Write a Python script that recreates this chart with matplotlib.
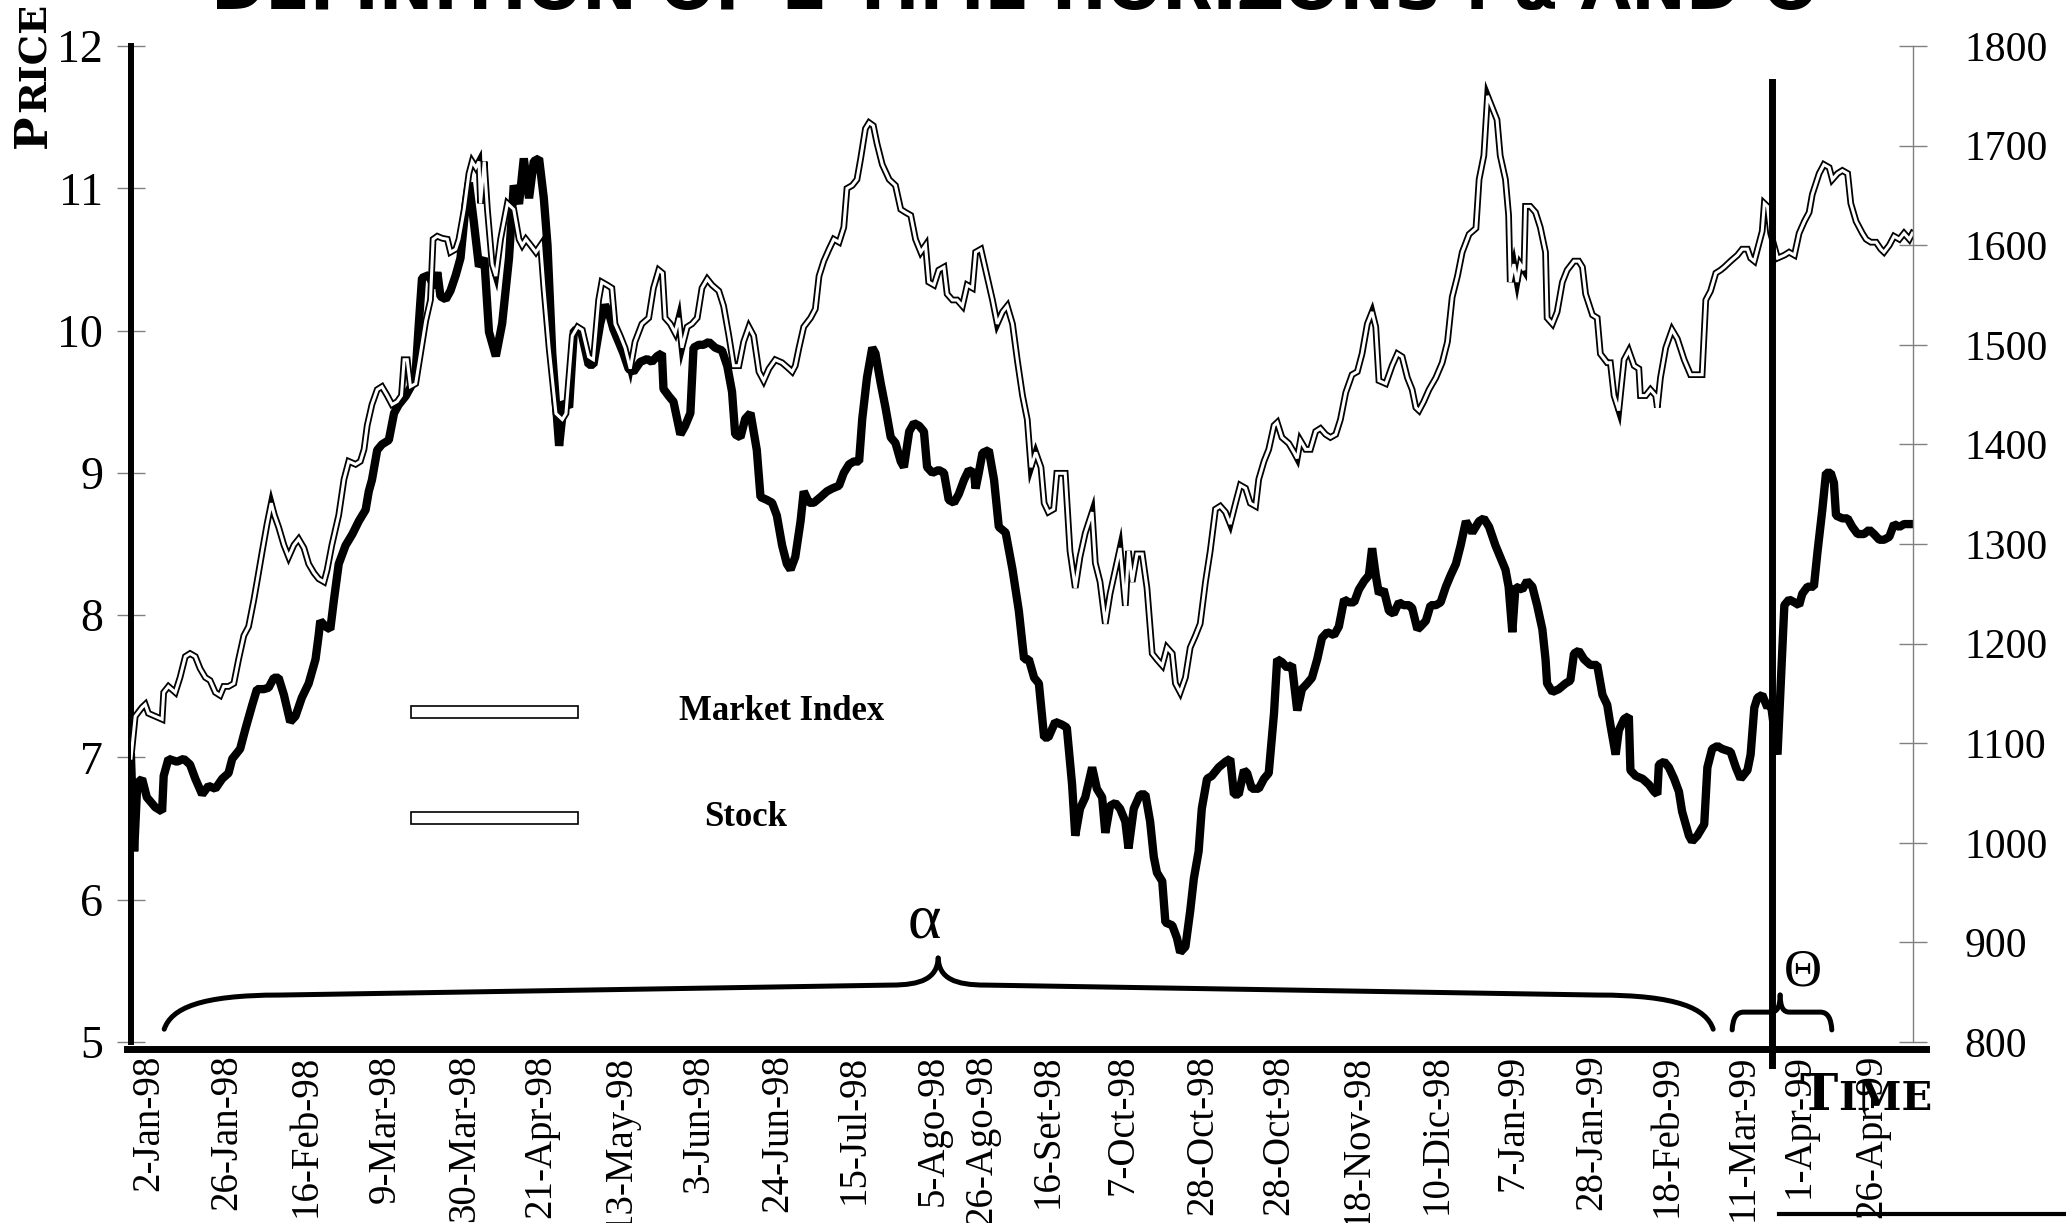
import matplotlib
matplotlib.use("Agg")
import matplotlib.pyplot as plt
from matplotlib.path import Path
from matplotlib.patches import PathPatch, Rectangle
from matplotlib.lines import Line2D

W, H, DPI = 2066, 1223, 100

TITLE = "DEFINITION OF 2 TIME HORIZONS : \u03b1 AND \u0398"

# x axis = trading day index (0 = 2-Jan-98)
TICK_DAYS = [3.4, 18.2, 33.2, 48.2, 63.2, 77.7, 92.7, 107.7, 122.7, 137.2, 152.2, 161.4,
             173.9, 188.2, 203.2, 217.7, 232.7, 247.7, 262.2, 277.0, 291.4, 305.7, 316.4, 330.2]
TICK_LABELS = ["2-Jan-98", "26-Jan-98", "16-Feb-98", "9-Mar-98", "30-Mar-98", "21-Apr-98",
               "13-May-98", "3-Jun-98", "24-Jun-98", "15-Jul-98", "5-Ago-98", "26-Ago-98",
               "16-Set-98", "7-Oct-98", "28-Oct-98", "28-Oct-98", "18-Nov-98", "10-Dic-98",
               "7-Jan-99", "28-Jan-99", "18-Feb-99", "11-Mar-99", "1-Apr-99", "26-Apr-99"]
PRICE_TICKS = [5, 6, 7, 8, 9, 10, 11, 12]
INDEX_TICKS = [800, 900, 1000, 1100, 1200, 1300, 1400, 1500, 1600, 1700, 1800]

STOCK_DAY = [0, 0.6, 1.2, 2.1, 3.0, 4.6, 5.9, 6.2, 7.1, 8.7, 10.0, 11.2, 12.2, 13.5, 14.7, 16.0,
             17.3, 18.5, 19.2, 20.7, 21.7, 23.0, 23.9, 25.2, 26.1, 27.1, 28.0, 29.0, 30.2, 31.2,
             32.4, 33.7, 35.0, 35.6, 35.9, 36.9, 37.8, 38.5, 39.4, 40.7, 42.0, 43.2, 44.5, 45.1,
             45.7, 46.7, 47.6, 48.9, 49.9, 50.8, 52.1, 53.0, 54.0, 54.6, 55.2, 56.5, 57.5, 58.1,
             58.7, 59.7, 60.6, 61.6, 62.5, 63.5, 64.1, 65.0, 66.0, 67.0, 67.9, 69.2, 70.4, 71.7,
             72.6, 73.6, 74.5, 75.5, 76.4, 77.4, 78.3, 79.0, 79.9, 81.2, 82.1, 83.1, 84.0, 85.3,
             86.8, 87.7, 89.0, 89.9, 90.6, 91.5, 92.5, 93.4, 94.4, 95.3, 96.6, 97.9, 98.8, 99.8,
             100.7, 101.0, 102.0, 102.9, 104.2, 105.1, 106.1, 106.7, 107.7, 108.6, 109.6, 110.8,
             112.1, 113.1, 114.0, 114.6, 115.6, 116.5, 117.5, 118.7, 119.4, 120.6, 121.6, 122.5,
             123.5, 124.4, 125.1, 126.0, 127.0, 127.6, 128.6, 129.5, 130.8, 132.0, 133.0, 134.3,
             135.2, 136.2, 137.1, 138.1, 138.7, 139.6, 140.6, 141.2, 142.2, 143.1, 144.1, 145.0,
             146.0, 146.6, 147.6, 148.5, 149.5, 150.4, 151.0, 152.0, 153.2, 154.2, 155.1, 156.1,
             157.0, 158.0, 158.9, 159.9, 160.2, 160.8, 161.5, 162.7, 163.7, 164.6, 165.9, 167.2,
             168.4, 169.4, 170.3, 171.3, 172.2, 173.2, 174.0, 175.3, 176.6, 177.5, 178.5, 179.1,
             180.0, 181.0, 182.3, 183.2, 184.2, 184.8, 185.7, 186.7, 187.6, 188.6, 189.2, 190.2,
             191.4, 192.4, 193.3, 194.0, 194.6, 195.6, 196.2, 197.5, 198.4, 199.0, 200.0, 200.9,
             201.6, 202.5, 203.1, 204.1, 205.0, 206.3, 207.6, 208.5, 209.2, 210.1, 211.1, 211.7,
             212.6, 213.9, 214.9, 215.8, 216.8, 217.4, 218.3, 219.3, 220.2, 221.2, 222.1, 223.1,
             224.0, 225.0, 225.9, 226.9, 228.2, 229.1, 230.1, 231.0, 232.0, 232.9, 233.9, 234.8,
             235.4, 236.1, 236.7, 237.6, 238.6, 239.5, 240.5, 241.4, 242.4, 243.0, 244.0, 244.6,
             245.6, 246.5, 247.5, 248.4, 249.4, 250.3, 251.3, 252.2, 253.2, 254.4, 255.7, 256.6,
             257.6, 258.8, 259.7, 260.7, 261.3, 262.0, 262.6, 263.9, 264.8, 265.8, 266.7, 267.7,
             268.3, 268.6, 269.6, 270.8, 272.1, 273.0, 273.7, 274.6, 275.6, 276.8, 278.1, 279.1,
             280.0, 280.6, 281.6, 282.2, 283.2, 284.1, 284.4, 285.4, 286.7, 287.9, 288.9, 289.5,
             289.8, 290.8, 291.7, 292.7, 293.6, 294.2, 295.5, 296.1, 297.1, 298.4, 299.0, 299.9,
             300.9, 301.8, 303.4, 304.4, 305.3, 306.6, 307.2, 307.9, 308.5, 309.4, 310.4, 311.0,
             312.3, 313.6, 314.5, 315.5, 316.4, 317.0, 318.0, 319.2, 319.9, 320.8, 321.5, 322.4,
             323.0, 323.4, 324.6, 325.6, 326.5, 327.5, 328.7, 329.7, 330.6, 331.6, 332.5, 333.5,
             334.4, 335.4, 336.3, 337.9]
STOCK_VAL = [7.00, 6.34, 6.82, 6.85, 6.72, 6.65, 6.62, 6.87, 6.99, 6.97, 6.99, 6.95, 6.85, 6.74,
             6.80, 6.78, 6.85, 6.89, 6.99, 7.06, 7.20, 7.37, 7.48, 7.48, 7.49, 7.56, 7.56, 7.44,
             7.25, 7.29, 7.42, 7.52, 7.69, 7.86, 7.96, 7.92, 7.90, 8.11, 8.36, 8.49, 8.57, 8.66,
             8.74, 8.87, 8.95, 9.16, 9.20, 9.23, 9.42, 9.48, 9.54, 9.60, 9.71, 10.05, 10.37, 10.39,
             10.30, 10.41, 10.24, 10.22, 10.28, 10.39, 10.51, 10.89, 11.04, 10.77, 10.45, 10.51,
             9.99, 9.82, 10.05, 10.51, 11.02, 10.89, 11.21, 10.93, 11.19, 11.21, 10.93, 10.60,
             9.84, 9.19, 9.50, 9.46, 10.00, 10.01, 9.76, 9.76, 10.05, 10.18, 10.13, 10.01, 9.92,
             9.84, 9.73, 9.71, 9.78, 9.80, 9.78, 9.82, 9.84, 9.59, 9.54, 9.50, 9.27, 9.33, 9.42,
             9.88, 9.90, 9.90, 9.92, 9.88, 9.86, 9.75, 9.57, 9.27, 9.25, 9.38, 9.42, 9.16, 8.83,
             8.81, 8.79, 8.70, 8.49, 8.36, 8.32, 8.41, 8.66, 8.87, 8.79, 8.79, 8.83, 8.87, 8.89,
             8.91, 9.00, 9.06, 9.08, 9.08, 9.38, 9.67, 9.88, 9.84, 9.63, 9.46, 9.25, 9.21, 9.08,
             9.04, 9.29, 9.35, 9.33, 9.29, 9.04, 9.00, 9.02, 9.00, 8.81, 8.79, 8.85, 8.95, 9.02,
             9.00, 8.89, 9.00, 9.14, 9.16, 8.95, 8.62, 8.58, 8.32, 8.03, 7.69, 7.69, 7.56, 7.52,
             7.14, 7.14, 7.25, 7.23, 7.21, 6.81, 6.45, 6.64, 6.72, 6.93, 6.78, 6.72, 6.47, 6.66,
             6.68, 6.64, 6.55, 6.36, 6.64, 6.74, 6.74, 6.55, 6.30, 6.19, 6.13, 5.84, 5.82, 5.73,
             5.63, 5.67, 5.92, 6.15, 6.34, 6.64, 6.85, 6.87, 6.93, 6.97, 6.99, 6.74, 6.74, 6.91,
             6.89, 6.78, 6.78, 6.85, 6.89, 7.31, 7.69, 7.67, 7.63, 7.65, 7.33, 7.48, 7.52, 7.56,
             7.69, 7.84, 7.88, 7.86, 7.92, 8.11, 8.09, 8.09, 8.18, 8.24, 8.28, 8.47, 8.28, 8.15,
             8.18, 8.03, 8.01, 8.09, 8.07, 8.07, 8.05, 7.90, 7.92, 7.96, 8.07, 8.07, 8.09, 8.20,
             8.28, 8.36, 8.49, 8.66, 8.58, 8.66, 8.68, 8.62, 8.49, 8.41, 8.32, 8.20, 7.88, 8.20,
             8.18, 8.24, 8.20, 8.07, 7.90, 7.69, 7.52, 7.46, 7.48, 7.52, 7.54, 7.73, 7.75, 7.69,
             7.65, 7.65, 7.44, 7.37, 7.23, 7.02, 7.19, 7.27, 7.29, 6.91, 6.87, 6.85, 6.81, 6.76,
             6.74, 6.95, 6.97, 6.93, 6.85, 6.76, 6.62, 6.45, 6.41, 6.45, 6.53, 6.93, 7.06, 7.08,
             7.06, 7.04, 6.93, 6.85, 6.91, 7.02, 7.35, 7.42, 7.44, 7.35, 7.39, 7.02, 8.07, 8.11,
             8.09, 8.07, 8.15, 8.20, 8.20, 8.45, 8.74, 9.00, 9.00, 8.93, 8.70, 8.68, 8.68, 8.62,
             8.57, 8.57, 8.60, 8.57, 8.53, 8.53, 8.55, 8.64, 8.62, 8.64, 8.64]

INDEX_DAY = [0, 0.8, 2.1, 2.7, 3.3, 4.6, 5.9, 6.2, 7.1, 8.4, 9.3, 10.3, 11.2, 12.2, 13.1, 14.1,
             15.0, 16.0, 16.9, 17.6, 18.5, 19.5, 20.4, 21.4, 22.3, 23.3, 23.9, 24.9, 25.8, 26.6,
             27.2, 28.0, 29.0, 29.9, 30.9, 31.8, 32.8, 33.7, 34.7, 35.6, 36.6, 37.2, 38.1, 39.4,
             40.4, 41.3, 42.6, 43.5, 44.2, 44.8, 45.7, 46.7, 47.6, 48.6, 49.5, 50.5, 51.3, 51.8,
             52.4, 53.0, 54.0, 54.9, 55.9, 56.8, 57.3, 58.1, 59.0, 60.0, 60.6, 61.6, 62.2, 63.2,
             64.1, 64.7, 65.4, 66.0, 66.3, 67.0, 67.6, 68.5, 69.2, 70.1, 71.4, 72.6, 73.6, 74.2,
             74.9, 75.8, 76.8, 77.7, 78.3, 79.3, 80.6, 81.8, 82.5, 83.7, 84.7, 85.6, 86.8, 87.7,
             88.7, 89.3, 90.3, 91.2, 91.8, 92.8, 93.7, 94.7, 95.6, 96.9, 98.2, 99.1, 100.1, 100.8,
             101.3, 102.3, 103.2, 103.9, 104.5, 105.5, 106.4, 107.4, 108.3, 109.3, 110.2, 111.5,
             112.4, 113.4, 114.3, 115.3, 116.2, 117.2, 118.1, 119.1, 120.0, 121.0, 122.2, 123.5,
             124.8, 125.4, 126.0, 126.7, 127.6, 128.9, 129.8, 130.5, 131.4, 132.4, 133.3, 134.3,
             135.2, 135.8, 136.8, 137.7, 138.4, 139.3, 140.0, 140.8, 141.5, 142.5, 143.8, 145.0,
             146.0, 146.9, 147.9, 148.8, 149.8, 150.7, 151.3, 152.3, 153.2, 154.2, 154.8, 155.8,
             156.7, 157.7, 158.6, 159.6, 160.2, 161.2, 162.1, 163.4, 164.3, 165.3, 166.2, 167.2,
             168.1, 169.1, 170.0, 170.7, 171.6, 172.6, 173.2, 174.0, 175.0, 175.6, 176.6, 177.2,
             178.1, 179.1, 180.0, 181.0, 182.3, 182.9, 183.8, 184.8, 185.7, 186.7, 187.6, 188.6,
             189.2, 189.9, 190.8, 191.8, 192.7, 193.7, 194.6, 195.6, 196.5, 197.5, 198.1, 199.0,
             200.0, 200.9, 201.9, 202.8, 203.8, 204.7, 205.7, 206.6, 207.6, 208.5, 209.5, 210.4,
             211.4, 212.3, 213.3, 213.9, 214.9, 215.8, 216.8, 217.4, 218.3, 219.6, 220.6, 221.2,
             221.8, 222.8, 223.7, 224.7, 225.6, 226.6, 227.5, 228.5, 229.4, 230.4, 231.6, 232.6,
             233.5, 234.5, 235.4, 236.1, 236.7, 238.0, 239.2, 240.2, 241.1, 242.1, 243.0, 243.7,
             244.3, 245.2, 246.2, 247.5, 248.7, 249.7, 250.6, 251.6, 252.5, 253.8, 255.1, 255.7,
             256.6, 257.3, 258.2, 259.1, 259.7, 260.7, 261.3, 261.6, 262.3, 262.9, 263.5, 264.2,
             264.5, 265.4, 266.4, 267.3, 268.3, 268.6, 269.6, 270.5, 271.5, 272.4, 273.7, 274.6,
             275.3, 275.9, 277.2, 278.1, 278.7, 280.0, 280.6, 281.3, 282.2, 283.2, 284.1, 285.1,
             286.0, 286.3, 287.3, 288.2, 289.2, 289.5, 290.1, 291.1, 292.3, 293.3, 294.6, 295.8,
             297.1, 298.0, 298.7, 299.6, 300.6, 301.5, 302.2, 303.4, 304.7, 305.6, 306.6, 307.2,
             307.9, 308.8, 309.4, 309.8, 310.4, 311.0, 312.3, 313.6, 314.5, 315.5, 316.4, 317.4,
             318.3, 318.9, 320.2, 321.1, 322.1, 322.7, 323.7, 324.6, 325.6, 326.2, 327.2, 328.4,
             329.1, 330.0, 331.0, 331.9, 332.5, 333.5, 334.4, 335.4, 336.3, 337.3, 337.9]
INDEX_VAL = [1085, 1127, 1136, 1139, 1130, 1127, 1124, 1151, 1157, 1151, 1166, 1187, 1190, 1187,
             1175, 1166, 1163, 1151, 1148, 1157, 1157, 1160, 1184, 1208, 1217, 1244, 1262, 1293,
             1320, 1341, 1329, 1317, 1299, 1287, 1299, 1305, 1296, 1280, 1271, 1265, 1262, 1274,
             1299, 1329, 1365, 1383, 1380, 1383, 1395, 1419, 1440, 1455, 1458, 1449, 1440, 1443,
             1449, 1485, 1485, 1458, 1461, 1491, 1524, 1545, 1606, 1609, 1607, 1606, 1593, 1596,
             1606, 1636, 1672, 1684, 1678, 1684, 1642, 1684, 1636, 1581, 1569, 1606, 1642, 1636,
             1606, 1600, 1606, 1600, 1593, 1600, 1558, 1497, 1431, 1425, 1431, 1509, 1518, 1515,
             1488, 1485, 1545, 1563, 1560, 1557, 1521, 1509, 1497, 1476, 1503, 1521, 1527, 1557,
             1575, 1572, 1527, 1521, 1512, 1527, 1497, 1518, 1521, 1527, 1557, 1566, 1560, 1554,
             1539, 1509, 1479, 1479, 1503, 1518, 1509, 1473, 1464, 1476, 1485, 1482, 1476, 1473,
             1479, 1497, 1518, 1527, 1536, 1569, 1584, 1596, 1606, 1603, 1618, 1657, 1660, 1666,
             1687, 1717, 1723, 1720, 1702, 1681, 1666, 1660, 1636, 1633, 1630, 1606, 1593, 1600,
             1563, 1560, 1575, 1578, 1551, 1545, 1545, 1539, 1560, 1557, 1593, 1596, 1575, 1545,
             1521, 1533, 1539, 1521, 1485, 1449, 1425, 1377, 1392, 1377, 1341, 1332, 1335, 1371,
             1371, 1371, 1293, 1256, 1287, 1311, 1332, 1281, 1262, 1220, 1250, 1274, 1296, 1238,
             1293, 1262, 1290, 1290, 1256, 1190, 1184, 1178, 1196, 1190, 1160, 1151, 1166, 1196,
             1208, 1220, 1262, 1293, 1335, 1338, 1332, 1320, 1341, 1359, 1356, 1341, 1338, 1365,
             1383, 1395, 1419, 1422, 1407, 1401, 1392, 1386, 1404, 1395, 1395, 1413, 1416, 1410,
             1407, 1410, 1425, 1452, 1470, 1473, 1491, 1521, 1533, 1518, 1464, 1461, 1479, 1491,
             1488, 1467, 1455, 1437, 1434, 1443, 1455, 1467, 1482, 1503, 1548, 1569, 1593, 1611,
             1617, 1666, 1690, 1750, 1738, 1726, 1690, 1666, 1630, 1563, 1581, 1563, 1581, 1575,
             1639, 1639, 1633, 1618, 1593, 1527, 1521, 1533, 1563, 1575, 1584, 1584, 1578, 1551,
             1530, 1527, 1491, 1482, 1482, 1449, 1434, 1485, 1494, 1479, 1476, 1449, 1449, 1455,
             1449, 1437, 1467, 1497, 1515, 1506, 1485, 1470, 1470, 1470, 1545, 1554, 1572, 1575,
             1578, 1584, 1590, 1596, 1596, 1587, 1584, 1602, 1614, 1642, 1639, 1612, 1587, 1590,
             1593, 1590, 1612, 1624, 1633, 1651, 1672, 1681, 1678, 1666, 1672, 1675, 1672, 1642,
             1624, 1612, 1606, 1603, 1603, 1596, 1593, 1600, 1609, 1606, 1612, 1606, 1612]

CUT_DAY = 311.3                      # boundary between the two horizons
ALPHA_BRACE = (6.3, 153.1, 300.1)    # start, tip, end (days)
THETA_BRACE = (303.7, 312.8, 322.6)


def fx(x): return x / W
def fy(y): return 1 - y / H


def brace(ax, x0, xm, x1, y_end, y_mid, y_near, y_tip, r_end, r_tip, lw):
    h = y_mid - y_end
    left = [(x0, y_end), (x0 + 0.06*r_end, y_end + 0.6*h), (x0 + 0.3*r_end, y_mid), (x0 + r_end, y_mid),
            (xm - r_tip, y_near),
            (xm - 0.35*r_tip, y_near), (xm - 0.02*r_tip, y_near + 0.25*(y_tip - y_near)), (xm, y_tip)]
    right = [(xm, y_tip), (xm + 0.02*r_tip, y_near + 0.25*(y_tip - y_near)), (xm + 0.35*r_tip, y_near),
             (xm + r_tip, y_near), (x1 - r_end, y_mid),
             (x1 - 0.3*r_end, y_mid), (x1 - 0.06*r_end, y_end + 0.6*h), (x1, y_end)]
    codes = [Path.MOVETO, Path.CURVE4, Path.CURVE4, Path.CURVE4, Path.LINETO,
             Path.CURVE4, Path.CURVE4, Path.CURVE4]
    for verts in (left, right):
        ax.add_patch(PathPatch(Path(verts, codes), fill=False, lw=lw, ec="black",
                               capstyle="round", clip_on=False, zorder=5))


def main():
    plt.rcParams["font.family"] = ["Liberation Serif", "DejaVu Serif"]
    fig = plt.figure(figsize=(W / DPI, H / DPI), dpi=DPI)
    ax = fig.add_axes([fx(131), fy(1042), (1913 - 131) / W, (1042 - 46) / H])
    ax2 = ax.twinx()

    ax.set_xlim(0, 338)
    ax.set_ylim(5, 12)
    ax2.set_ylim(800, 1800)

    # stock: thick black, market index: double (black + white core)
    ax.plot(STOCK_DAY, STOCK_VAL, color="black", lw=6, solid_joinstyle="bevel")
    ax2.plot(INDEX_DAY, INDEX_VAL, color="black", lw=4.8, solid_joinstyle="miter")
    ax2.plot(INDEX_DAY, INDEX_VAL, color="white", lw=2.2, solid_joinstyle="miter")

    for s in ("top", "right", "bottom"):
        ax.spines[s].set_visible(False)
    ax.spines["left"].set_linewidth(4.3)
    for s in ("top", "left", "bottom"):
        ax2.spines[s].set_visible(False)
    ax2.spines["right"].set_linewidth(1.0)
    ax2.spines["right"].set_color("#808080")

    ax.set_yticks(PRICE_TICKS)
    ax.tick_params(axis="y", direction="inout", length=20, width=1, color="#808080",
                   pad=10, labelsize=33)
    ax2.set_yticks(INDEX_TICKS)
    ax2.tick_params(axis="y", direction="inout", length=20, width=1, color="#808080",
                    pad=27, labelsize=30)
    ax.set_xticks(TICK_DAYS, TICK_LABELS, rotation=90)
    ax.tick_params(axis="x", length=0, pad=9, labelsize=28)

    # horizon split line
    ax2.axvline(CUT_DAY, ymin=-0.023, ymax=0.964, color="black", lw=5, clip_on=False, zorder=10)

    # braces + greek labels
    brace(ax, *ALPHA_BRACE, 5.09, 5.33, 5.40, 5.59, 22, 9, 3.6)
    brace(ax, *THETA_BRACE, 5.085, 5.21, 5.21, 5.33, 2.2, 1.8, 3.6)
    ax.text(150.5, 5.84, "\u03b1", fontsize=46, ha="center", va="center")
    ax.text(317.2, 5.49, "\u0398", fontsize=38, ha="center", va="center")

    # thick baseline under the plot
    fig.add_artist(Line2D([fx(127), fx(1926)], [fy(1049), fy(1049)], color="black", lw=5))
    fig.add_artist(Line2D([fx(1779), 1], [fy(1214), fy(1214)], color="black", lw=3))

    # hand-made legend
    for ytop, lab, cx in ((706, "Market Index", 782), (812, "Stock", 746)):
        fig.add_artist(Rectangle((fx(411), fy(ytop + 12)), (578 - 411) / W, 12 / H,
                                 transform=fig.transFigure, fc="white", ec="black", lw=1.2))
        fig.text(fx(cx), fy(ytop + 6), lab, fontsize=25, fontweight="bold",
                 ha="center", va="center")

    fig.canvas.draw()
    r = fig.canvas.get_renderer()

    # small-caps axis titles
    kw = dict(fontweight="bold", family="DejaVu Serif", rotation=90, rotation_mode="anchor",
              ha="left", va="baseline")
    p = fig.text(fx(46), fy(148), "P", fontsize=32, **kw)
    bb = p.get_window_extent(r)
    fig.text(fx(46), (bb.y1 + 2) / H, "RICE", fontsize=27.5, **kw)

    kw = dict(fontweight="bold", family="DejaVu Serif", ha="left", va="baseline")
    t = fig.text(fx(1799), fy(1110), "T", fontsize=37, **kw)
    bb = t.get_window_extent(r)
    fig.text((bb.x1 + 1) / W, fy(1110), "IME", fontsize=29, **kw)

    # title, clipped at the top edge
    ttl = fig.text(fx(211), fy(9), TITLE, fontsize=40, fontweight="bold",
                   family="DejaVu Sans", ha="left", va="baseline")
    w = ttl.get_window_extent(r).width
    ttl.set_fontsize(40 * 1607 / w)

    fig.savefig("out.png", dpi=DPI)
    plt.close(fig)


if __name__ == "__main__":
    main()
